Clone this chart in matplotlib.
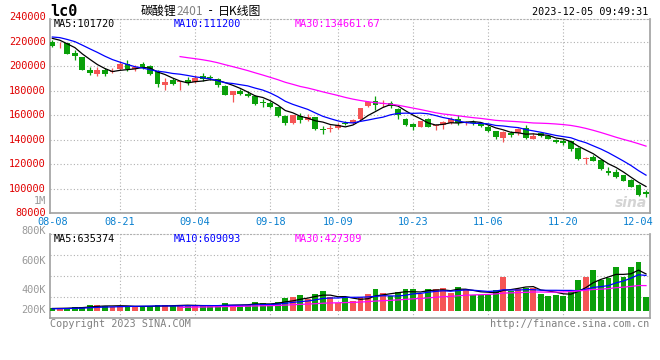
import matplotlib
matplotlib.use("Agg")
import matplotlib.pyplot as plt
import numpy as np
import pandas as pd

# ---- data --------------------------------------------------------------
opens = [219700, 217600, 218610, 210990, 207180, 196840, 193580, 196840, 195210, 197390,
         201740, 197930, 201740, 200110, 195760, 184870, 188680, 186780, 188680, 187050,
         191950, 191130, 189770, 183780, 176710, 179970, 177250, 175620, 170720, 169630,
         166370, 159300, 153310, 159300, 156030, 158200, 148950, 148950, 149500, 153850,
         153310, 156570, 167460, 171270, 169090, 170180, 164740, 157120, 152770, 150590,
         156570, 150860, 151680, 153850, 156570, 153310, 154400, 153310, 150580, 146770,
         141330, 145690, 145140, 149500, 140790, 145140, 142970, 139700, 139160, 138610,
         133170, 124460, 125550, 123380, 114120, 113580, 110860, 107050, 103240, 97000]
highs = [221330, 219700, 219160, 213170, 207400, 199020, 199570, 198480, 198480, 203920,
         205010, 200650, 203370, 201200, 196840, 190310, 190310, 188140, 191400, 192490,
         194120, 192490, 190310, 184330, 179700, 181610, 179430, 176170, 172900, 171270,
         166910, 159840, 160380, 162010, 160930, 158750, 151130, 151680, 153850, 155480,
         156570, 166100, 171810, 175620, 172360, 171810, 165820, 157660, 153310, 155480,
         157660, 152770, 154940, 158750, 159840, 155480, 156030, 154400, 151670, 147320,
         146770, 147320, 149500, 152220, 145690, 145690, 144050, 140790, 140250, 139160,
         133720, 125550, 127730, 123920, 117930, 115750, 111400, 107590, 103780, 98500]
lows = [215890, 215075, 209600, 205010, 196600, 192760, 191950, 191950, 194390, 196840,
        196300, 195760, 197930, 193040, 183240, 180520, 184870, 180520, 184870, 186500,
        188140, 188680, 183240, 176170, 170720, 176170, 175080, 168550, 166910, 165820,
        158750, 152220, 152770, 153850, 154940, 147870, 144600, 146230, 148410, 151950,
        152770, 156030, 166910, 164190, 166370, 165820, 157120, 151130, 147870, 150300,
        150040, 147870, 148410, 152760, 152220, 151670, 152220, 150580, 146230, 140250,
        138070, 142420, 144050, 140790, 140500, 142420, 140250, 137530, 135890, 130990,
        123380, 120110, 122290, 115210, 111400, 108680, 105960, 101060, 93990, 93200]
closes = [216435, 217800, 209900, 208270, 196840, 194390, 196570, 193580, 196030, 201740,
          197390, 199570, 199570, 193580, 185420, 187050, 185420, 187320, 185960, 190310,
          189770, 190590, 184870, 176710, 179430, 177250, 175620, 169090, 170180, 166370,
          159300, 153310, 159840, 156030, 158750, 148410, 148140, 149770, 152220, 153040,
          156030, 165820, 170720, 168550, 169910, 167460, 159840, 151680, 150590, 154940,
          150590, 151400, 154400, 157115, 153850, 154120, 153580, 151130, 146770, 141880,
          146230, 143510, 148950, 141330, 142970, 142970, 140790, 138070, 136980, 132630,
          123920, 125280, 122830, 115750, 113030, 109230, 106510, 101610, 95080, 95700]
volumes = [51000, 51000, 51000, 69000, 69000, 103000, 103000, 86000, 74000, 86000,
           86000, 69000, 81000, 81000, 103000, 103000, 86000, 103000, 103000, 86000,
           86000, 86000, 86000, 137000, 103000, 103000, 103000, 159000, 137000, 103000,
           159000, 228000, 240000, 274000, 206000, 297000, 343000, 240000, 137000, 218000,
           166000, 240000, 292000, 377000, 309000, 262000, 326000, 377000, 377000, 286000,
           377000, 377000, 394000, 309000, 412000, 377000, 274000, 274000, 274000, 360000,
           583000, 343000, 377000, 394000, 394000, 292000, 257000, 274000, 257000, 360000,
           532000, 583000, 703000, 532000, 566000, 755000, 583000, 755000, 845000, 240000]

# sessions before 08-08, only feed the moving averages
prior_closes = [213000, 214500, 216060, 223000, 225000, 226000, 225500, 224500,
                225500, 224800, 223500, 222765]
prior_volumes = [30000, 32000, 35000, 30000, 28000, 33000, 36000, 34000,
                 38000, 40000, 42000, 45000]

date_labels = ["08-08", "08-21", "09-04", "09-18", "10-09", "10-23", "11-06", "11-20", "12-04"]
date_index = [0, 9, 19, 29, 38, 48, 58, 68, 78]

price_ticks = [240000, 220000, 200000, 180000, 160000, 140000, 120000, 100000, 80000]
price_ma_last = ["101720", "111200", "134661.67"]
vol_ma_last = ["635374", "609093", "427309"]
vol_labels = ["1M", "800K", "600K", "400K", "200K"]

# ---- helpers ------------------------------------------------------------
W, H = 660, 360
mono = "DejaVu Sans Mono"
cjk = ["Noto Sans CJK SC", "DejaVu Sans"]
RED = "#f55555"
GREEN = "#0aa00a"
GRID = "#b0b0b0"
FRAME = "#a0a0a0"


def fx(x):
    return x / W


def fy(y):
    return 1 - y / H


n = len(closes)
idx = np.arange(n)
np_ = len(prior_closes)

all_close = pd.Series(prior_closes + closes)
all_vol = pd.Series(prior_volumes + volumes)
pma = {k: all_close.rolling(k).mean().to_numpy()[np_:] for k in (5, 10, 30)}
vma = {k: all_vol.rolling(k).mean().to_numpy()[np_:] for k in (5, 10, 30)}

o = np.array(opens, float)
c = np.array(closes, float)
up = c >= o
colors = np.where(up, RED, GREEN)

fig = plt.figure(figsize=(W / 100, H / 100), dpi=100)
fig.patch.set_facecolor("white")

ax = fig.add_axes([fx(50), fy(213), fx(600), (213 - 18.5) / H])
av = fig.add_axes([fx(50), fy(318), fx(600), 84 / H])

for a in (ax, av):
    a.set_xlim(-0.31, 79.53)
    a.set_xticks(date_index[1:-1])
    a.tick_params(length=0, labelbottom=False, labelleft=False)
    a.grid(True, color=GRID, linestyle=(0, (1, 2)), linewidth=0.8)
    a.set_axisbelow(True)
    for s in ("left", "right", "bottom"):
        a.spines[s].set_color(FRAME)
        a.spines[s].set_linewidth(1.2)
    a.spines["top"].set_color(GRID)
    a.spines["top"].set_linestyle((0, (1, 2)))

# ---- price panel --------------------------------------------------------
ax.set_ylim(80000, 238800)
ax.set_yticks(price_ticks[1:-1])

ax.vlines(idx, lows, highs, colors=colors, linewidth=0.9, zorder=2)
body = np.maximum(np.abs(c - o), 700)
ax.bar(idx, body, bottom=np.minimum(o, c), width=0.78, color=colors,
       linewidth=0, zorder=3)

ax.plot(idx, pma[5], color="black", lw=0.9, zorder=4)
ax.plot(idx, pma[10], color="#0000ff", lw=0.9, zorder=4)
ax.plot(idx, pma[30], color="#ff00ff", lw=0.9, zorder=4)

for v in price_ticks:
    ax.text(-0.007, v, str(v), transform=ax.get_yaxis_transform(), ha="right",
            va="center", color="#e00000", fontsize=7.4, family=mono)
for i, lab in zip(date_index, date_labels):
    ax.text(i, -0.046, lab, transform=ax.get_xaxis_transform(), ha="center",
            va="center", color="#0a80d0", fontsize=7.4, family=mono)

ax.text(0.995, 0.05, "sina", transform=ax.transAxes, ha="right", va="center",
        color="#d4d4d4", fontsize=10, fontweight="bold", style="italic")

# ---- volume panel -------------------------------------------------------
av.set_ylim(-120000, 1320000)
lo, hi = av.get_ylim()
av.set_yticks([lo + f * (hi - lo) for f in (0.25, 0.5, 0.75)])

av.bar(idx, volumes, width=0.78, color=colors, linewidth=0, zorder=3)
av.plot(idx, vma[5], color="black", lw=0.9, zorder=4)
av.plot(idx, vma[10], color="#0000ff", lw=0.9, zorder=4)
av.plot(idx, vma[30], color="#ff00ff", lw=0.9, zorder=4)

# ---- texts --------------------------------------------------------------
fig.text(fx(50), fy(11), "lc0", fontsize=11, fontweight="bold", family=mono,
         va="center", ha="left", color="black")
fig.text(fx(141), fy(11), "碳酸锂", fontsize=8.6, family=cjk, va="center", color="black")
fig.text(fx(177), fy(11.5), "2401", fontsize=8.6, family=cjk, va="center", color="#808080")
fig.text(fx(207), fy(11), "-", fontsize=8.6, family=mono, va="center", color="black")
fig.text(fx(218), fy(11), "日K线图", fontsize=8.6, family=cjk, va="center", color="black")
fig.text(fx(648), fy(12), "2023-12-05 09:49:31", fontsize=7.3, family=mono,
         ha="right", va="center", color="black")

ma_cols = ["black", "#0000ff", "#ff00ff"]
ma_names = ["MA5", "MA10", "MA30"]
ma_x = [54, 174, 295]
for name, col, xx, pv, vv in zip(ma_names, ma_cols, ma_x, price_ma_last, vol_ma_last):
    fig.text(fx(xx), fy(24.3), f"{name}:{pv}", fontsize=7.3, family=mono,
             color=col, va="center")
    fig.text(fx(xx), fy(238.7), f"{name}:{vv}", fontsize=7.3, family=mono,
             color=col, va="center")

for lab, yy in zip(vol_labels, [200.7, 231, 260.7, 290, 310]):
    fig.text(fx(46), fy(yy), lab, fontsize=7.4, family=mono, color="#999999",
             ha="right", va="center")

fig.text(fx(50), fy(324), "Copyright 2023 SINA.COM", fontsize=7.3, family=mono,
         color="#808080", va="center")
fig.text(fx(649), fy(324), "http://finance.sina.com.cn", fontsize=7.3, family=mono,
         color="#808080", va="center", ha="right")

fig.savefig("out.png", dpi=100)
